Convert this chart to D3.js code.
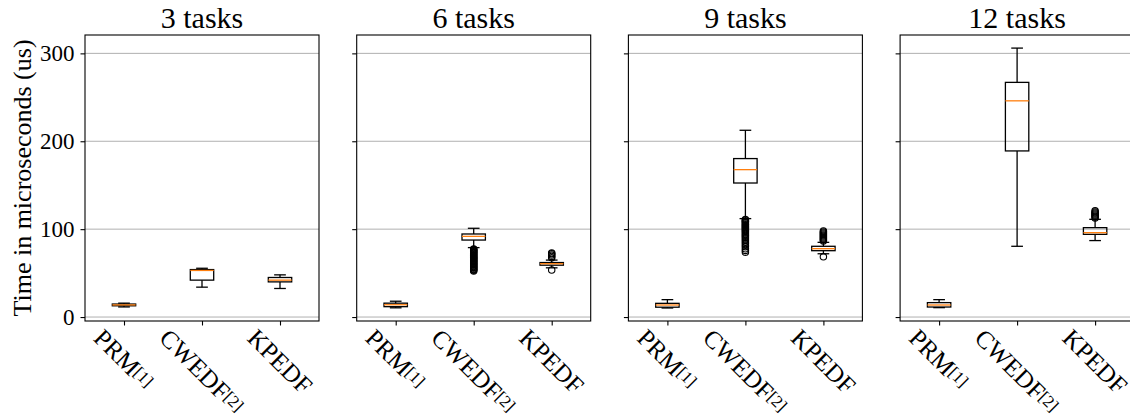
<!DOCTYPE html>
<html>
<head>
<meta charset="utf-8">
<script src="https://cdn.jsdelivr.net/npm/d3@7"></script>
<style>
  html, body { margin: 0; padding: 0; background: #fff; }
  svg { display: block; }
  text { font-family: "Liberation Serif", "DejaVu Serif", serif; fill: #000; }
</style>
</head>
<body>
<svg id="chart" width="1130" height="417"></svg>
<script>
// Panel titles, methods and tick values
const panelTitles = ["3 tasks", "6 tasks", "9 tasks", "12 tasks"];
const methodNames = ["PRM", "CWEDF", "KPEDF"];
const methodRefs = ["[1]", "[2]", ""];
const yTicks = [0, 100, 200, 300];

// Box statistics per method: [whisker low, Q1, median, Q3, whisker high]
const stats3 = [
  [11.5, 12.8, 13.8, 14.8, 15.8],
  [34.0, 42.0, 53.0, 54.0, 55.5],
  [32.5, 40.0, 42.0, 45.0, 48.0]
];
const stats6 = [
  [10.5, 11.8, 14.0, 15.8, 18.0],
  [79.0, 87.6, 91.8, 94.5, 101.0],
  [56.0, 59.0, 60.7, 62.0, 64.8]
];
const stats9 = [
  [10.3, 11.2, 13.7, 15.6, 19.8],
  [112.0, 152.5, 167.7, 180.3, 212.5],
  [72.0, 75.5, 77.8, 80.5, 85.0]
];
const stats12 = [
  [10.7, 11.4, 13.7, 16.4, 19.8],
  [80.5, 189.0, 246.0, 267.0, 306.0],
  [87.0, 94.1, 96.0, 101.7, 111.2]
];

// Outliers per method
const fliers3 = [[], [], []];
const fliers6 = [
  [],
  [77.5, 76.8, 75.9, 75.1, 74.2, 73.4, 72.5, 71.8, 70.9, 70.1, 69.2, 68.4, 67.6,
   66.7, 65.9, 65.0, 64.2, 63.3, 62.5, 61.6, 60.8, 59.9, 59.1, 58.2, 57.4, 56.5,
   55.7, 54.8, 54.0, 53.2, 52.4],
  [73.0, 72.0, 70.5, 69.0, 67.5, 53.5]
];
const fliers9 = [
  [],
  [111.0, 110.2, 109.1, 108.3, 107.2, 106.0, 105.1, 104.0, 102.8, 101.9, 100.7,
   99.5, 98.4, 97.2, 96.0, 94.6, 93.1, 91.8, 90.2, 88.9, 87.1, 85.4, 83.6, 81.8,
   79.9, 77.6, 75.8, 73.8],
  [86.5, 87.6, 88.7, 89.8, 91.0, 92.1, 93.3, 94.5, 95.7, 96.8, 97.9, 68.5]
];
const fliers12 = [
  [],
  [],
  [112.8, 113.9, 115.0, 116.1, 117.3, 118.4, 119.6, 120.8]
];

const panelStats = [stats3, stats6, stats9, stats12];
const panelFliers = [fliers3, fliers6, fliers9, fliers12];

// Layout
const svg = d3.select("#chart");
const plotTop = 35, plotBottom = 321;
const firstLeft = 85, panelStep = 271.7, panelWidth = 234;
const boxWidth = 0.3, capWidth = 0.15;
const medianColor = "#ff7f0e";
const gridColor = "#b0b0b0";

const y = d3.scaleLinear().domain([-4.5, 320.9]).range([plotBottom, plotTop]);

panelTitles.forEach((title, p) => {
  const left = firstLeft + p * panelStep;
  const x = d3.scaleLinear().domain([0.5, 3.5]).range([left, left + panelWidth]);
  const g = svg.append("g");

  // horizontal grid
  g.selectAll("line.grid").data(yTicks).join("line")
    .attr("class", "grid")
    .attr("x1", left).attr("x2", left + panelWidth)
    .attr("y1", d => y(d)).attr("y2", d => y(d))
    .attr("stroke", gridColor).attr("stroke-width", 1);

  // y axis ticks (labels only on the first panel)
  const yAxis = d3.axisLeft(y).tickValues(yTicks).tickSize(4.5).tickPadding(6);
  if (p > 0) yAxis.tickFormat("");
  const ya = g.append("g").attr("transform", `translate(${left},0)`).call(yAxis);
  ya.select(".domain").remove();
  ya.selectAll(".tick line").attr("stroke", "#000").attr("stroke-width", 1.1);
  ya.selectAll(".tick text")
    .attr("font-family", '"Liberation Serif", serif')
    .attr("font-size", 23).attr("dy", "0.33em");

  // x axis ticks
  const xAxis = d3.axisBottom(x).tickValues([1, 2, 3]).tickSize(4.5).tickFormat("");
  const xa = g.append("g").attr("transform", `translate(0,${plotBottom})`).call(xAxis);
  xa.select(".domain").remove();
  xa.selectAll(".tick line").attr("stroke", "#000").attr("stroke-width", 1.1);

  // rotated category labels, centred under their ticks
  methodNames.forEach((name, i) => {
    const outer = g.append("g");
    const inner = outer.append("g").attr("transform", "rotate(45)");
    const t = inner.append("text").attr("font-size", 25);
    t.append("tspan").text(name);
    if (methodRefs[i]) {
      t.append("tspan").attr("font-size", 17).attr("dy", -4).text(methodRefs[i]);
    }
    const bb = outer.node().getBBox();
    const tx = x(i + 1) - (bb.x + bb.width / 2);
    const ty = plotBottom + 3 - bb.y;
    outer.attr("transform", `translate(${tx},${ty})`);
  });

  // boxes
  const stats = panelStats[p];
  const fl = panelFliers[p];
  stats.forEach((s, i) => {
    const pos = i + 1;
    const [lo, q1, med, q3, hi] = s;
    const bx = g.append("g").attr("stroke", "#000").attr("stroke-width", 1.3).attr("fill", "none");
    // whiskers
    bx.append("line").attr("x1", x(pos)).attr("x2", x(pos)).attr("y1", y(q1)).attr("y2", y(lo));
    bx.append("line").attr("x1", x(pos)).attr("x2", x(pos)).attr("y1", y(q3)).attr("y2", y(hi));
    // caps
    bx.append("line").attr("x1", x(pos - capWidth / 2)).attr("x2", x(pos + capWidth / 2))
      .attr("y1", y(lo)).attr("y2", y(lo));
    bx.append("line").attr("x1", x(pos - capWidth / 2)).attr("x2", x(pos + capWidth / 2))
      .attr("y1", y(hi)).attr("y2", y(hi));
    // box
    bx.append("rect")
      .attr("x", x(pos - boxWidth / 2)).attr("width", x(pos + boxWidth / 2) - x(pos - boxWidth / 2))
      .attr("y", y(q3)).attr("height", y(q1) - y(q3));
    // median
    g.append("line")
      .attr("x1", x(pos - boxWidth / 2)).attr("x2", x(pos + boxWidth / 2))
      .attr("y1", y(med)).attr("y2", y(med))
      .attr("stroke", medianColor).attr("stroke-width", 1.3);
    // outliers
    g.selectAll(null).data(fl[i]).join("circle")
      .attr("cx", x(pos)).attr("cy", d => y(d)).attr("r", 3.2)
      .attr("fill", "none").attr("stroke", "#000").attr("stroke-width", 1.1);
  });

  // frame
  g.append("rect")
    .attr("x", left).attr("y", plotTop)
    .attr("width", panelWidth).attr("height", plotBottom - plotTop)
    .attr("fill", "none").attr("stroke", "#000").attr("stroke-width", 1.1);

  // title
  g.append("text")
    .attr("x", left + panelWidth / 2).attr("y", 28)
    .attr("text-anchor", "middle").attr("font-size", 30)
    .text(title);
});

// y axis label
svg.append("text")
  .attr("transform", `translate(31,${(plotTop + plotBottom) / 2}) rotate(-90)`)
  .attr("text-anchor", "middle").attr("font-size", 26)
  .text("Time in microseconds (us)");
</script>
</body>
</html>
